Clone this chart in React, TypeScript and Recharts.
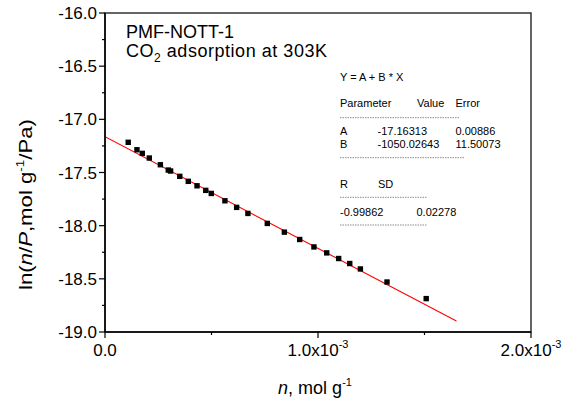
import {
  ComposedChart,
  Scatter,
  Line,
  XAxis,
  YAxis,
  ReferenceArea,
} from "recharts";

// n (mol/g) and ln(n/P)
const nValues = [
  0.000109, 0.00015, 0.000175, 0.000208, 0.00026, 0.000297, 0.000308,
  0.000351, 0.000391, 0.000432, 0.000473, 0.000499, 0.000563, 0.000618,
  0.000671, 0.000762, 0.000842, 0.000914, 0.000981, 0.001041, 0.001097,
  0.001149, 0.001199, 0.001324, 0.001508,
];
const lnValues = [
  -17.216, -17.286, -17.32, -17.364, -17.427, -17.477, -17.486, -17.536,
  -17.583, -17.625, -17.668, -17.697, -17.766, -17.828, -17.885, -17.979,
  -18.061, -18.13, -18.2, -18.256, -18.309, -18.356, -18.407, -18.53, -18.686,
];

// linear fit end points
const fitN = [0, 0.00165];
const fitLn = [-17.163, -18.896];

const xTicks = [0, 0.0005, 0.001, 0.0015, 0.002];
const xMajor = [0, 0.001, 0.002];
const xTickBase = ["0.0", "1.0x10", "2.0x10"];
const xTickExp = ["", "-3", "-3"];

const yTicks = [
  -19, -18.75, -18.5, -18.25, -18, -17.75, -17.5, -17.25, -17, -16.75, -16.5,
  -16.25, -16,
];
const yMajor = [-19, -18.5, -18, -17.5, -17, -16.5, -16];
const yTickLabels = ["-19.0", "-18.5", "-18.0", "-17.5", "-17.0", "-16.5", "-16.0"];

const paramRows = [
  ["A", "-17.16313", "0.00886"],
  ["B", "-1050.02643", "11.50073"],
];
const statRow = ["-0.99862", "0.02278"];

const points = nValues.map((x, i) => ({ x, y: lnValues[i] }));
const fitData = fitN.map((x, i) => ({ x, y: fitLn[i] }));

const FONT = "'Liberation Sans', Arial, sans-serif";

function XTick(props: any) {
  const { x, y, payload } = props;
  const idx = xMajor.indexOf(payload.value);
  const major = idx >= 0;
  return (
    <g>
      <line x1={x} x2={x} y1={y} y2={y + (major ? 6 : 3)} stroke="#000" strokeWidth={1.2} />
      {major && (
        <text x={x} y={y + 24} textAnchor="middle" fontSize={17} fontFamily={FONT} fill="#000">
          {xTickBase[idx]}
          {xTickExp[idx] && (
            <tspan fontSize={11} dy={-8}>
              {xTickExp[idx]}
            </tspan>
          )}
        </text>
      )}
    </g>
  );
}

function YTick(props: any) {
  const { x, y, payload } = props;
  const idx = yMajor.indexOf(payload.value);
  const major = idx >= 0;
  return (
    <g>
      <line x1={x} x2={x - (major ? 6 : 3)} y1={y} y2={y} stroke="#000" strokeWidth={1.2} />
      {major && (
        <text x={x - 8} y={y} dy="0.36em" textAnchor="end" fontSize={17} fontFamily={FONT} fill="#000">
          {yTickLabels[idx]}
        </text>
      )}
    </g>
  );
}

function Square(props: any) {
  const { cx, cy } = props;
  return <rect x={cx - 2.7} y={cy - 2.7} width={5.4} height={5.4} fill="#000" />;
}

function Dashes({ y, x2 }: { y: number; x2: number }) {
  return <line x1={340} x2={x2} y1={y} y2={y} stroke="#8a8a8a" strokeWidth={1} strokeDasharray="1.5 1" />;
}

export default function App() {
  const small = { fontSize: 11, fontFamily: FONT, fill: "#000" };
  const b = (c: number) => c + 4; // baseline from row centre
  return (
    <div style={{ position: "absolute", left: 0, top: 0, width: 570, height: 399, background: "#fff" }}>
      <ComposedChart
        width={570}
        height={399}
        margin={{ top: 13, right: 39, bottom: 37, left: 0 }}
      >
        <XAxis
          type="number"
          dataKey="x"
          domain={[0, 0.002]}
          ticks={xTicks}
          interval={0}
          height={30}
          tickSize={0}
          tickMargin={0}
          tick={<XTick />}
          axisLine={{ stroke: "#000", strokeWidth: 1.5 }}
          allowDataOverflow
        />
        <YAxis
          type="number"
          dataKey="y"
          domain={[-19, -16]}
          ticks={yTicks}
          interval={0}
          width={105}
          tickSize={0}
          tickMargin={0}
          tick={<YTick />}
          axisLine={{ stroke: "#000", strokeWidth: 1.5 }}
          allowDataOverflow
        />
        <ReferenceArea
          x1={0}
          x2={0.002}
          y1={-19}
          y2={-16}
          fill="none"
          fillOpacity={0}
          stroke="#333"
          strokeWidth={1.5}
        />
        <Line
          data={fitData}
          dataKey="y"
          type="linear"
          stroke="#ff0000"
          strokeWidth={1.1}
          dot={false}
          activeDot={false}
          isAnimationActive={false}
        />
        <Scatter data={points} dataKey="y" shape={<Square />} isAnimationActive={false} />
      </ComposedChart>
      <svg
        width={570}
        height={399}
        style={{ position: "absolute", left: 0, top: 0, pointerEvents: "none" }}
      >
        <text x={126} y={38} fontSize={18} fontFamily={FONT} fill="#000">
          PMF-NOTT-1
        </text>
        <text x={126} y={57} fontSize={18} fontFamily={FONT} fill="#000" textLength={201}>
          CO
          <tspan fontSize={12} dy={5}>2</tspan>
          <tspan dy={-5}> adsorption at 303K</tspan>
        </text>

        <text x={340} y={b(77)} {...small}>Y = A + B * X</text>
        <text x={340} y={b(103.3)} {...small}>Parameter</text>
        <text x={417} y={b(103.3)} {...small}>Value</text>
        <text x={455.5} y={b(103.3)} {...small}>Error</text>
        <Dashes y={117.7} x2={460} />
        {paramRows.map((r, i) => (
          <g key={r[0]}>
            <text x={340} y={b(130.7 + i * 13.3)} {...small}>{r[0]}</text>
            <text x={377.5} y={b(130.7 + i * 13.3)} {...small}>{r[1]}</text>
            <text x={455.5} y={b(130.7 + i * 13.3)} {...small}>{r[2]}</text>
          </g>
        ))}
        <Dashes y={157.7} x2={464} />
        <text x={340} y={b(184.3)} {...small}>R</text>
        <text x={378} y={b(184.3)} {...small}>SD</text>
        <Dashes y={197.3} x2={427} />
        <text x={340} y={b(211.7)} {...small}>{statRow[0]}</text>
        <text x={416.5} y={b(211.7)} {...small}>{statRow[1]}</text>
        <Dashes y={225} x2={427} />

        <text x={315} y={394} textAnchor="middle" fontSize={18} fontFamily={FONT} fill="#000">
          <tspan fontStyle="italic">n</tspan>, mol g
          <tspan fontSize={11} dy={-8}>-1</tspan>
        </text>
        <text
          transform="translate(32,204.5) rotate(-90)"
          textAnchor="middle"
          fontSize={18}
          fontFamily={FONT}
          fill="#000"
          textLength={171}
          lengthAdjust="spacingAndGlyphs"
        >
          ln(<tspan fontStyle="italic">n</tspan>/<tspan fontStyle="italic">P</tspan>,mol g
          <tspan fontSize={11} dy={-8}>-1</tspan>
          <tspan dy={8}>/Pa)</tspan>
        </text>
      </svg>
    </div>
  );
}
